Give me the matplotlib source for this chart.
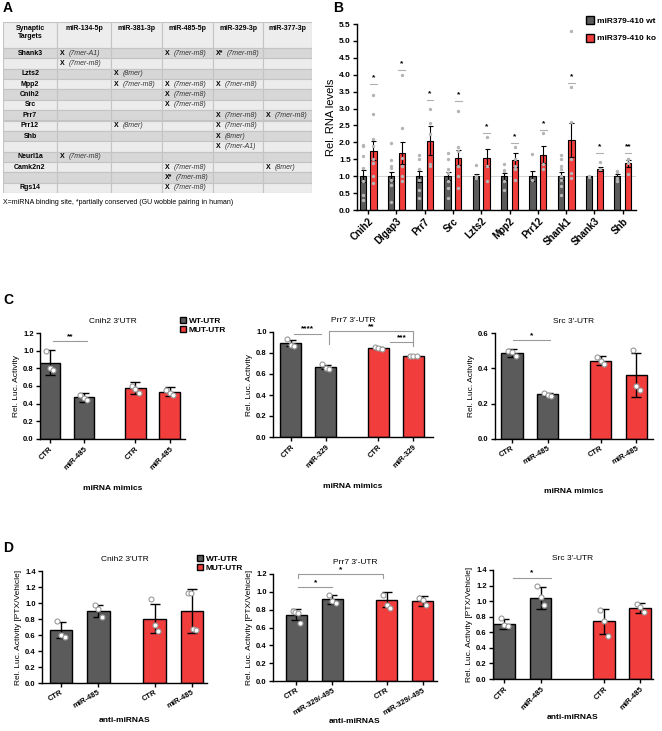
import numpy as np
import matplotlib.pyplot as plt
from matplotlib.patches import Rectangle, Patch

plt.rcParams['font.family'] = ['Liberation Sans', 'DejaVu Sans']
plt.rcParams['font.weight'] = 'bold'

W, H = 662, 731
GRAY = '#5b5b5b'
RED = '#f23d3d'

# ---------------- A : table ----------------
mir_cols = ["miR-134-5p", "miR-381-3p", "miR-485-5p", "miR-329-3p", "miR-377-3p"]
target_rows = ["Shank3", "", "Lzts2", "Mpp2", "Cnih2", "Src", "Prr7", "Prr12",
               "Shb", "", "Neurl1a", "Camk2n2", "", "Rgs14"]
site_cells = [
    ["X (7mer-A1)", "", "X (7mer-m8)", "X* (7mer-m8)", ""],
    ["X (7mer-m8)", "", "", "", ""],
    ["", "X (8mer)", "", "", ""],
    ["", "X (7mer-m8)", "X (7mer-m8)", "X (7mer-m8)", ""],
    ["", "", "X (7mer-m8)", "", ""],
    ["", "", "X (7mer-m8)", "", ""],
    ["", "", "", "X (7mer-m8)", "X (7mer-m8)"],
    ["", "X (8mer)", "", "X (7mer-m8)", ""],
    ["", "", "", "X (8mer)", ""],
    ["", "", "", "X (7mer-A1)", ""],
    ["X (7mer-m8)", "", "", "", ""],
    ["", "", "X (7mer-m8)", "", "X (8mer)"],
    ["", "", "X* (7mer-m8)", "", ""],
    ["", "", "X (7mer-m8)", "", ""],
]
footnote = "X=miRNA binding site, *partially conserved (GU wobble pairing in human)"

# ---------------- B : RNA levels ----------------
genes_b = ["Cnih2", "Dlgap3", "Prr7", "Src", "Lzts2", "Mpp2", "Prr12", "Shank1", "Shank3", "Shb"]
wt_mean = [1.0, 1.0, 1.0, 1.0, 1.0, 1.0, 1.0, 1.0, 1.0, 1.0]
wt_sem = [0.17, 0.13, 0.16, 0.11, 0.05, 0.10, 0.14, 0.12, 0.02, 0.05]
ko_mean = [1.75, 1.68, 2.05, 1.54, 1.55, 1.48, 1.63, 2.08, 1.21, 1.38]
ko_sem = [0.28, 0.32, 0.43, 0.22, 0.26, 0.20, 0.25, 0.50, 0.06, 0.10]
wt_pts = [[1.93, 1.9, 1.6, 1.25, 0.85, 0.45, 0.3],
          [1.98, 1.47, 1.3, 1.25, 0.9, 0.75, 0.25],
          [1.62, 1.5, 1.2, 0.9, 0.6, 0.35],
          [1.68, 1.5, 1.2, 1.1, 0.85, 0.65, 0.35],
          [1.32, 1.0, 0.95],
          [1.37, 1.18, 1.15, 0.85, 0.6],
          [1.67, 0.9],
          [1.62, 1.5, 1.3, 1.2, 1.0, 0.9, 0.7, 0.45],
          [1.0, 0.98],
          [1.15, 1.12, 0.95, 0.85]]
ko_pts = [[3.4, 2.85, 2.1, 1.9, 1.5, 1.4, 1.0, 0.8],
          [4.0, 2.43, 1.55, 1.3, 1.0, 0.85],
          [3.0, 2.57, 2.25, 1.35, 1.3],
          [2.92, 1.87, 1.75, 1.3, 1.0, 0.65],
          [2.15, 1.3, 0.85],
          [1.85, 1.5, 1.3, 1.2, 0.9],
          [2.27, 1.35, 1.2],
          [5.3, 3.65, 2.6, 1.5, 1.1, 0.95],
          [1.42, 1.2],
          [1.52, 1.5, 1.4, 1.05]]
sig_b_y = [3.72, 4.15, 3.25, 3.22, 2.28, 1.98, 2.38, 3.77, 1.70, 1.68]
sig_b_txt = ["*", "*", "*", "*", "*", "*", "*", "*", "*", "**"]

# ---------------- C : luciferase, miRNA mimics ----------------
c1_labels = ["CTR", "miR-485", "CTR", "miR-485"]
c1_mean = [0.865, 0.47, 0.58, 0.535]
c1_err = [0.14, 0.05, 0.07, 0.05]
c1_pts = [[1.0, 0.8, 0.78], [0.5, 0.46, 0.44], [0.6, 0.57, 0.52], [0.56, 0.52, 0.5]]

c2_labels = ["CTR", "miR-329", "CTR", "miR-329"]
c2_mean = [0.895, 0.668, 0.848, 0.772]
c2_err = [0.03, 0.02, 0.01, 0.006]
c2_pts = [[0.93, 0.88, 0.87], [0.70, 0.66, 0.65], [0.86, 0.85, 0.84], [0.775, 0.77, 0.77]]

c3_labels = ["CTR", "miR-485", "CTR", "miR-485"]
c3_mean = [0.487, 0.253, 0.443, 0.36]
c3_err = [0.025, 0.01, 0.025, 0.125]
c3_pts = [[0.50, 0.49, 0.47], [0.262, 0.25, 0.245], [0.465, 0.44, 0.425], [0.505, 0.30, 0.28]]

# ---------------- D : luciferase, anti-miRNAs ----------------
d1_labels = ["CTR", "miR-485", "CTR", "miR-485"]
d1_mean = [0.66, 0.895, 0.805, 0.90]
d1_err = [0.10, 0.075, 0.18, 0.27]
d1_pts = [[0.77, 0.60, 0.57], [0.97, 0.92, 0.82], [1.05, 0.72, 0.65], [1.13, 1.13, 0.68, 0.66]]

d2_labels = ["CTR", "miR-329/-495", "CTR", "miR-329/-495"]
d2_mean = [0.745, 0.915, 0.91, 0.90]
d2_err = [0.06, 0.05, 0.085, 0.055]
d2_pts = [[0.78, 0.77, 0.76, 0.65], [0.97, 0.90, 0.88], [0.97, 0.85, 0.82], [0.93, 0.91, 0.85]]

d3_labels = ["CTR", "miR-485", "CTR", "miR-485"]
d3_mean = [0.71, 1.045, 0.74, 0.91]
d3_err = [0.065, 0.14, 0.165, 0.06]
d3_pts = [[0.78, 0.70, 0.68], [1.19, 1.05, 0.95], [0.88, 0.75, 0.55], [0.96, 0.92, 0.86]]


fig = plt.figure(figsize=(W / 100, H / 100), dpi=100)


def px_axes(x0, y0, x1, y1):
    # axes box given in pixels of the figure (top-left origin)
    return fig.add_axes([x0 / W, 1 - y1 / H, (x1 - x0) / W, (y1 - y0) / H])


def prism(ax, fs):
    for s in ['top', 'right']:
        ax.spines[s].set_visible(False)
    for s in ['left', 'bottom']:
        ax.spines[s].set_linewidth(1.0)
    ax.tick_params(direction='out', length=3, width=1.0, labelsize=fs, pad=1.5)


def sig(ax, x0, x1, y, txt, drop_l=0.0, drop_r=0.0, dy=0.0):
    ax.plot([x0, x0, x1, x1], [y - drop_l, y, y, y - drop_r], color='#9a9a9a', lw=0.8,
            clip_on=False, zorder=6)
    ax.text((x0 + x1) / 2, y + dy, txt, ha='center', va='bottom', fontsize=6, clip_on=False)


def luc_panel(ax, pos, labels, means, errs, pts, ymax, ystep, xlim, rot, title, ylabel, xlabel, xl_off):
    colors = [GRAY, GRAY, RED, RED]
    ax.bar(pos, means, width=0.6, color=colors, edgecolor='black', linewidth=1.0, zorder=2)
    ax.errorbar(pos, means, yerr=errs, fmt='none', ecolor='black', elinewidth=1.0,
                capsize=3.5, capthick=1.0, zorder=4)
    for p, ys in zip(pos, pts):
        offs = np.linspace(-0.1, 0.1, len(ys))
        ax.scatter(p + offs, ys, s=13, facecolor='white', edgecolor='#9a9a9a', lw=0.8, zorder=5)
    ax.set_xlim(*xlim)
    ax.set_ylim(0, ymax)
    ax.set_yticks(np.arange(0, ymax + 1e-6, ystep))
    ax.set_yticklabels(['%.1f' % v for v in np.arange(0, ymax + 1e-6, ystep)])
    ax.set_xticks(pos)
    ax.set_xticklabels(labels, rotation=rot, ha='right', rotation_mode='anchor')
    prism(ax, 5.5)
    ax.set_ylabel(ylabel, fontsize=6, labelpad=2)
    ax.set_title(title, fontsize=6, pad=7)
    ax.annotate(xlabel, xy=(0.5, 0), xycoords='axes fraction', xytext=(0, -xl_off),
                textcoords='offset points', ha='center', va='center', fontsize=6)


# ---------- panel letters ----------
for lbl, (px, py) in zip("ABCD", [(3, 8), (333, 8), (3, 300), (3, 548)]):
    fig.text(px / W, 1 - py / H, lbl, fontsize=10, fontweight='bold', va='center')

# ---------- A ----------
ax_a = px_axes(3, 22, 312, 193)
ax_a.set_xlim(0, 309)
ax_a.set_ylim(171, 0)
ax_a.axis('off')
col_edges = [0, 54, 108, 159, 210, 260, 309]
head_h = 26
row_h = (171 - head_h) / len(target_rows)
for j in range(6):
    ax_a.add_patch(Rectangle((col_edges[j], 0), col_edges[j + 1] - col_edges[j], head_h,
                             fc='#ededed', ec='#c4c4c4', lw=0.8))
ax_a.text(27, 3, "Synaptic\nTargets", ha='center', va='top', fontsize=5, linespacing=1.3)
for j, m in enumerate(mir_cols):
    ax_a.text((col_edges[j + 1] + col_edges[j + 2]) / 2, 3, m, ha='center', va='top', fontsize=5)
for i, name in enumerate(target_rows):
    y0 = head_h + i * row_h
    yc = y0 + row_h / 2
    fc = '#d7d7d7' if i % 2 == 0 else '#ececec'
    for j in range(6):
        ax_a.add_patch(Rectangle((col_edges[j], y0), col_edges[j + 1] - col_edges[j], row_h,
                                 fc=fc, ec='#c4c4c4', lw=0.8))
    ax_a.text(27, yc, name, ha='center', va='center', fontsize=5)
    for j, cell in enumerate(site_cells[i]):
        if not cell:
            continue
        mark, site = cell.split(' ', 1)
        xl = col_edges[j + 1]
        ax_a.text(xl + 3, yc, mark, ha='left', va='center', fontsize=5)
        ax_a.text(xl + (12 if mark == 'X' else 13.5), yc, site, ha='left', va='center',
                  fontsize=5, fontstyle='italic', fontweight='normal', color='#333333')
fig.text(3 / W, 1 - 202 / H, footnote, fontsize=5, fontweight='normal', va='center')

# ---------- B ----------
ax_b = px_axes(357, 24, 636, 210)
xg = np.arange(len(genes_b))
off = 0.19
bw = 0.22
ax_b.axhline(1.0, color='#cccccc', lw=0.6, zorder=1)
ax_b.bar(xg - off, wt_mean, width=bw, color=GRAY, edgecolor='black', lw=0.8, zorder=2)
ax_b.bar(xg + off, ko_mean, width=bw, color=RED, edgecolor='black', lw=0.8, zorder=2)
ax_b.errorbar(xg - off, wt_mean, yerr=wt_sem, fmt='none', ecolor='black', elinewidth=0.8,
              capsize=1.8, capthick=0.8, zorder=4)
ax_b.errorbar(xg + off, ko_mean, yerr=ko_sem, fmt='none', ecolor='black', elinewidth=0.8,
              capsize=1.8, capthick=0.8, zorder=4)
for i in range(len(genes_b)):
    ax_b.scatter(np.full(len(wt_pts[i]), xg[i] - off), wt_pts[i], s=2, color='#b5b5b5', zorder=5)
    ax_b.scatter(np.full(len(ko_pts[i]), xg[i] + off), ko_pts[i], s=2, color='#b5b5b5', zorder=5)
    ax_b.plot([xg[i] + off - 0.12, xg[i] + off + 0.12], [sig_b_y[i]] * 2, color='#b0b0b0', lw=0.8)
    ax_b.text(xg[i] + off, sig_b_y[i] + 0.08, sig_b_txt[i], ha='center', va='bottom', fontsize=6)
ax_b.set_xlim(-0.39, 9.47)
ax_b.set_ylim(0, 5.5)
ax_b.set_yticks(np.arange(0, 5.51, 0.5))
ax_b.set_yticklabels(['%.1f' % v for v in np.arange(0, 5.51, 0.5)])
ax_b.set_xticks(xg)
ax_b.set_xticklabels(genes_b, rotation=45, ha='right', rotation_mode='anchor', fontsize=7)
prism(ax_b, 6)
ax_b.tick_params(axis='x', labelsize=7)
ax_b.set_ylabel("Rel. RNA levels", fontsize=8, labelpad=2)
fig.legend([Patch(fc=GRAY, ec='black'), Patch(fc=RED, ec='black')],
           ["miR379-410 wt", "miR379-410 ko"], loc='upper left',
           bbox_to_anchor=(578 / W, 1 - 9 / H), frameon=False, prop={'weight': 'bold', 'size': 6},
           handlelength=1.0, handleheight=1.1, handletextpad=0.4, labelspacing=1.0)

# ---------- C ----------
pos4 = [0, 1, 2.5, 3.5]
ax_c1 = px_axes(40, 333, 185, 439)
luc_panel(ax_c1, pos4, c1_labels, c1_mean, c1_err, c1_pts, 1.2, 0.2, (-0.28, 3.95), 45,
          "Cnih2 3'UTR", "Rel. Luc. Activity", "miRNA mimics", 36)
sig(ax_c1, 0.1, 1.1, 1.11, "**", dy=0.01)

ax_c2 = px_axes(273, 332, 433, 437)
luc_panel(ax_c2, pos4, c2_labels, c2_mean, c2_err, c2_pts, 1.0, 0.2, (-0.51, 4.06), 45,
          "Prr7 3'-UTR", "Rel. Luc. Activity", "miRNA mimics", 36)
sig(ax_c2, 0.1, 0.85, 0.985, "****", dy=0.01)
sig(ax_c2, 1.1, 3.5, 1.01, "**", drop_l=0.12, drop_r=0.12, dy=0.01)
sig(ax_c2, 2.83, 3.5, 0.90, "***", drop_r=0.03, dy=0.01)

ax_c3 = px_axes(495, 333, 653, 439)
luc_panel(ax_c3, pos4, c3_labels, c3_mean, c3_err, c3_pts, 0.6, 0.2, (-0.48, 3.97), 30,
          "Src 3'-UTR", "Rel. Luc. Activity", "miRNA mimics", 38)
sig(ax_c3, 0.03, 1.07, 0.56, "*", dy=0.005)

fig.legend([Patch(fc=GRAY, ec='black'), Patch(fc=RED, ec='black')], ["WT-UTR", "MUT-UTR"],
           loc='upper left', bbox_to_anchor=(174 / W, 1 - 311 / H), frameon=False,
           prop={'weight': 'bold', 'size': 6}, handlelength=0.8, handleheight=0.8,
           handletextpad=0.3, labelspacing=0.1, borderpad=0.2)

# ---------- D ----------
ax_d1 = px_axes(42, 571, 207, 683)
luc_panel(ax_d1, pos4, d1_labels, d1_mean, d1_err, d1_pts, 1.4, 0.2, (-0.5, 3.9), 30,
          "Cnih2 3'UTR", "Rel. Luc. Activity [PTX/Vehicle]", "anti-miRNAS", 27)

ax_d2 = px_axes(273, 574, 437, 681)
luc_panel(ax_d2, pos4, d2_labels, d2_mean, d2_err, d2_pts, 1.2, 0.2, (-0.65, 3.9), 30,
          "Prr7 3'-UTR", "Rel. Luc. Activity [PTX/Vehicle]", "anti-miRNAS", 29)
sig(ax_d2, 0.04, 1.0, 1.05, "*", dy=0.01)
sig(ax_d2, 0.04, 2.4, 1.2, "*", drop_l=0.05, drop_r=0.05, dy=0.01)

pos4d = [0, 1, 2.75, 3.75]
ax_d3 = px_axes(493, 570, 653, 679)
luc_panel(ax_d3, pos4d, d3_labels, d3_mean, d3_err, d3_pts, 1.4, 0.2, (-0.31, 4.1), 45,
          "Src 3'-UTR", "Rel. Luc. Activity [PTX/Vehicle]", "anti-miRNAS", 28)
sig(ax_d3, 0.25, 1.28, 1.3, "*", dy=0.02)

fig.legend([Patch(fc=GRAY, ec='black'), Patch(fc=RED, ec='black')], ["WT-UTR", "MUT-UTR"],
           loc='upper left', bbox_to_anchor=(191 / W, 1 - 549 / H), frameon=False,
           prop={'weight': 'bold', 'size': 6}, handlelength=0.8, handleheight=0.8,
           handletextpad=0.3, labelspacing=0.1, borderpad=0.2)

fig.savefig("out.png", dpi=100)
